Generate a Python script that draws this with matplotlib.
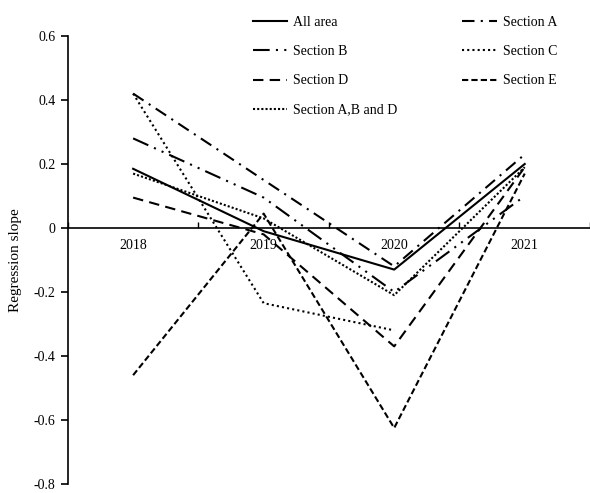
import matplotlib
matplotlib.use("Agg")
import matplotlib.pyplot as plt
import numpy as np

years = ["2018", "2019", "2020", "2021"]
all_area = [0.185, -0.01, -0.13, 0.20]
section_a = [0.42, 0.15, -0.12, 0.23]
section_b = [0.28, 0.095, -0.20, 0.10]
section_c = [0.42, -0.235, -0.32, np.nan]
section_d = [0.095, -0.02, -0.37, 0.19]
section_e = [-0.46, 0.045, -0.625, 0.17]
section_abd = [0.17, 0.03, -0.21, 0.19]

plt.rcParams['font.family'] = ['Liberation Serif', 'DejaVu Serif']

fig = plt.figure(figsize=(5.9, 4.93), dpi=100)
ax = fig.add_axes([0.115, 0.0183, 0.885, 0.9087])

x = np.arange(len(years))
lw = 1.5
h_all, = ax.plot(x, all_area, color='black', lw=lw, ls='-', label='All area')
h_a, = ax.plot(x, section_a, color='black', lw=lw, ls=(0, (6, 3, 1, 3)), label='Section A')
h_b, = ax.plot(x, section_b, color='black', lw=lw, ls=(0, (8, 3, 1, 3, 1, 3)), label='Section B')
h_c, = ax.plot(x, section_c, color='black', lw=lw, ls=(0, (1, 1.5)), label='Section C')
h_d, = ax.plot(x, section_d, color='black', lw=lw, ls=(0, (5, 3)), label='Section D')
h_e, = ax.plot(x, section_e, color='black', lw=lw, ls=(0, (3, 1.5)), label='Section E')
h_abd, = ax.plot(x, section_abd, color='black', lw=lw, ls=(0, (1, 1)), label='Section A,B and D')

ax.set_xlim(-0.5, 3.5)
ax.set_ylim(-0.8, 0.6)
ax.set_yticks([-0.8, -0.6, -0.4, -0.2, 0, 0.2, 0.4, 0.6])
ax.set_yticklabels(['-0.8', '-0.6', '-0.4', '-0.2', '0', '0.2', '0.4', '0.6'])
ax.set_xticks(x)
ax.set_xticklabels(years)
ax.set_xticks(np.arange(-0.5, 3.6, 1), minor=True)

ax.spines['top'].set_visible(False)
ax.spines['right'].set_visible(False)
ax.spines['bottom'].set_position(('data', 0))
ax.spines['bottom'].set_linewidth(1.2)
ax.spines['left'].set_linewidth(1.2)

ax.tick_params(axis='y', direction='out', length=5, width=1.2, labelsize=10, pad=4)
ax.tick_params(axis='x', which='major', length=0, labelsize=10, pad=8)
ax.tick_params(axis='x', which='minor', direction='in', length=4, width=1)

ax.set_ylabel('Regression slope', fontsize=11, labelpad=8)

handles = [h_all, h_b, h_d, h_abd, h_a, h_c, h_e]
ax.legend(handles=handles, labels=[h.get_label() for h in handles],
          ncol=2, loc='upper left', bbox_to_anchor=(0.33, 1.072), frameon=False,
          fontsize=10, handlelength=2.5, handletextpad=0.4, columnspacing=4.7,
          labelspacing=1.16)

fig.savefig('out.png', dpi=100, facecolor='white')
